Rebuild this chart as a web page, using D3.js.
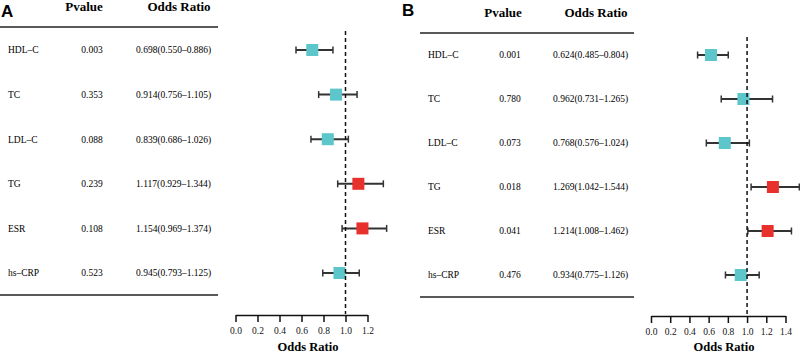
<!DOCTYPE html>
<html>
<head>
<meta charset="utf-8">
<script src="https://cdn.jsdelivr.net/npm/d3@7"></script>
<style>
  body { margin: 0; background: #fff; }
  svg { display: block; }
  svg text { font-family: "Liberation Serif", serif; }
  svg text.letter { font-family: "Liberation Sans", sans-serif; }
</style>
</head>
<body>
<svg width="800" height="355"></svg>
<script>
let svg = d3.select("svg");

let markers = ["HDL–C", "TC", "LDL–C", "TG", "ESR", "hs–CRP"];

let pvalue_a = ["0.003", "0.353", "0.088", "0.239", "0.108", "0.523"];
let or_a = [0.698, 0.914, 0.839, 1.117, 1.154, 0.945];
let lower_a = [0.550, 0.756, 0.686, 0.929, 0.969, 0.793];
let upper_a = [0.886, 1.105, 1.026, 1.344, 1.374, 1.125];
let ticks_a = [0, 0.2, 0.4, 0.6, 0.8, 1.0, 1.2];

let pvalue_b = ["0.001", "0.780", "0.073", "0.018", "0.041", "0.476"];
let or_b = [0.624, 0.962, 0.768, 1.269, 1.214, 0.934];
let lower_b = [0.485, 0.731, 0.576, 1.042, 1.008, 0.775];
let upper_b = [0.804, 1.265, 1.024, 1.544, 1.462, 1.126];
let ticks_b = [0, 0.2, 0.4, 0.6, 0.8, 1.0, 1.2, 1.4];

let cyan = "#5cc6ca";
let red = "#e8302c";
let fmt = d3.format(".3f");

const drawPanel = function(p) {
  let g = svg.append("g");
  let rows = markers.map((m, i) => ({
    name: m, p: p.pvalue[i], or: p.or[i], lo: p.lower[i], hi: p.upper[i]
  }));

  let y = d3.scalePoint().domain(markers).range(p.rows);
  let x = d3.scaleLinear().domain(d3.extent(p.ticks)).range(p.axis);

  // panel letter
  g.append("text")
    .attr("class", "letter")
    .attr("x", p.letter[0]).attr("y", p.letter[1])
    .style("font-weight", "bold").style("font-size", "17px")
    .text(p.label);

  // column headers
  g.append("text")
    .attr("x", p.colP_head).attr("y", p.head_y)
    .attr("text-anchor", "middle")
    .style("font-weight", "bold").style("font-size", "13px")
    .text("Pvalue");
  g.append("text")
    .attr("x", p.colOR_head).attr("y", p.head_y)
    .attr("text-anchor", "middle")
    .style("font-weight", "bold").style("font-size", "13px")
    .text("Odds Ratio");

  // table rules
  [p.rule_top, p.rule_bottom].forEach((ry) => {
    g.append("line")
      .attr("x1", p.rule_x[0]).attr("x2", p.rule_x[1])
      .attr("y1", ry).attr("y2", ry)
      .attr("stroke", "#222").attr("stroke-width", 1.5);
  });

  let row = g.selectAll("g.row")
    .data(rows)
    .enter().append("g")
      .attr("class", "row")
      .attr("transform", (d) => "translate(0," + y(d.name) + ")");

  row.append("text")
    .attr("x", p.colName).attr("dy", "0.35em")
    .style("font-size", "9.5px")
    .text((d) => d.name);
  row.append("text")
    .attr("x", p.colP).attr("dy", "0.35em")
    .attr("text-anchor", "middle")
    .style("font-size", "9.5px")
    .text((d) => d.p);
  row.append("text")
    .attr("x", p.colOR).attr("dy", "0.35em")
    .style("font-size", "9.5px")
    .text((d) => fmt(d.or) + "(" + fmt(d.lo) + "–" + fmt(d.hi) + ")");

  // reference line at OR = 1
  g.append("line")
    .attr("x1", x(1)).attr("x2", x(1))
    .attr("y1", p.dash[0]).attr("y2", p.dash[1])
    .attr("stroke", "#111").attr("stroke-width", 1.5)
    .attr("stroke-dasharray", "4,3");

  // confidence intervals
  row.append("line")
    .attr("x1", (d) => x(d.lo)).attr("x2", (d) => x(d.hi))
    .attr("stroke", "#333").attr("stroke-width", 2);
  row.append("line")
    .attr("x1", (d) => x(d.lo)).attr("x2", (d) => x(d.lo))
    .attr("y1", -3.5).attr("y2", 3.5)
    .attr("stroke", "#333").attr("stroke-width", 1.5);
  row.append("line")
    .attr("x1", (d) => x(d.hi)).attr("x2", (d) => x(d.hi))
    .attr("y1", -3.5).attr("y2", 3.5)
    .attr("stroke", "#333").attr("stroke-width", 1.5);
  row.append("rect")
    .attr("x", (d) => x(d.or) - 6).attr("y", -6)
    .attr("width", 12).attr("height", 12)
    .attr("fill", (d) => d.or > 1 ? red : cyan);

  // x axis, ticks pointing down
  let axis = g.append("g")
    .attr("transform", "translate(0," + p.axis_y + ")")
    .call(d3.axisBottom(x).tickValues(p.ticks).tickFormat(d3.format(".1f"))
      .tickSize(7).tickSizeOuter(0).tickPadding(5));
  axis.attr("font-family", null);
  axis.select(".domain").attr("stroke", "#111").attr("stroke-width", 1.5);
  axis.selectAll(".tick line").attr("stroke", "#111").attr("stroke-width", 1.5);
  axis.selectAll(".tick text")
    .style("font-size", "9.5px").attr("fill", "#111");

  g.append("text")
    .attr("x", p.title_x).attr("y", 351)
    .attr("text-anchor", "middle")
    .style("font-weight", "bold").style("font-size", "12.5px")
    .text("Odds Ratio");
};

drawPanel({
  label: "A", letter: [1, 17],
  pvalue: pvalue_a, or: or_a, lower: lower_a, upper: upper_a, ticks: ticks_a,
  rows: [50, 273], axis: [235.5, 367.5], axis_y: 315,
  head_y: 11, colP_head: 84, colOR_head: 179,
  rule_top: 27, rule_bottom: 295, rule_x: [0, 218],
  colName: 8, colP: 92, colOR: 136,
  dash: [31, 314], title_x: 308
});

drawPanel({
  label: "B", letter: [402, 16],
  pvalue: pvalue_b, or: or_b, lower: lower_b, upper: upper_b, ticks: ticks_b,
  rows: [55, 275], axis: [651, 785.5], axis_y: 316,
  head_y: 17, colP_head: 503, colOR_head: 596,
  rule_top: 33, rule_bottom: 297, rule_x: [420, 634],
  colName: 428, colP: 510, colOR: 553,
  dash: [37, 315], title_x: 724
});
</script>
</body>
</html>
